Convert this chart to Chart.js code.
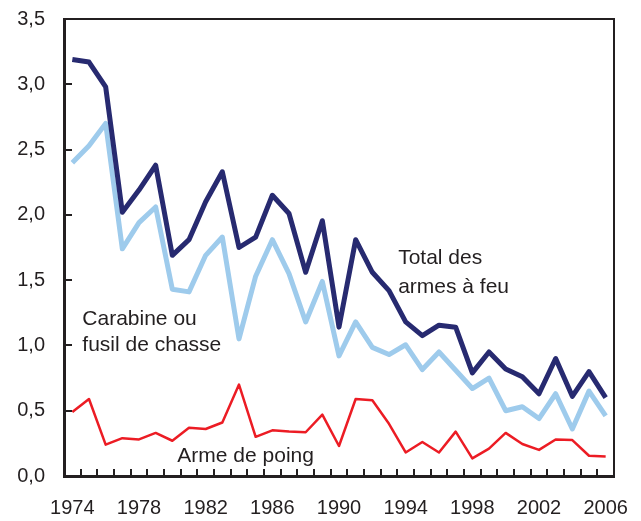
<!DOCTYPE html>
<html><head><meta charset="utf-8">
<script src="https://cdn.jsdelivr.net/npm/chart.js@4/dist/chart.umd.min.js"></script>
<style>html,body{margin:0;padding:0;background:#fff}#wrap{width:641px;height:521px}</style>
</head><body><div id="wrap"><canvas id="c" width="641" height="521"></canvas></div>
<script>
const years = ['1974','1975','1976','1977','1978','1979','1980','1981','1982','1983','1984','1985','1986','1987','1988','1989','1990','1991','1992','1993','1994','1995','1996','1997','1998','1999','2000','2001','2002','2003','2004','2005','2006'];
const totalArmes = [3.19,3.17,2.98,2.02,2.19,2.38,1.69,1.81,2.10,2.33,1.75,1.83,2.15,2.01,1.56,1.955,1.14,1.81,1.56,1.42,1.18,1.075,1.155,1.14,0.79,0.95,0.82,0.76,0.63,0.90,0.61,0.80,0.60];
const carabine = [2.40,2.53,2.70,1.74,1.94,2.06,1.43,1.41,1.69,1.83,1.05,1.53,1.81,1.55,1.18,1.49,0.92,1.18,0.985,0.93,1.005,0.815,0.95,0.81,0.67,0.75,0.50,0.53,0.44,0.63,0.36,0.65,0.46];
const armePoing = [0.49,0.59,0.24,0.29,0.28,0.33,0.27,0.37,0.36,0.41,0.70,0.30,0.35,0.34,0.335,0.47,0.23,0.59,0.58,0.40,0.18,0.26,0.18,0.34,0.135,0.21,0.33,0.245,0.20,0.28,0.275,0.155,0.15];
const labeledYears = ['1974','1978','1982','1986','1990','1994','1998','2002','2006'];
const yTickValues = [0,0.5,1,1.5,2,2.5,3,3.5];
const annotations = [
  {text:'Total des', xIdx:19.55, y:1.625},
  {text:'armes à feu', xIdx:19.55, y:1.405},
  {text:'Carabine ou', xIdx:0.6, y:1.16},
  {text:'fusil de chasse', xIdx:0.6, y:0.955},
  {text:'Arme de poing', xIdx:6.3, y:0.105}
];

const FONT = '"Liberation Sans", Arial, Helvetica, sans-serif';
const INK = '#231f20';

const framePlugin = {
  id: 'frame',
  afterDatasetsDraw(chart) {
    const ctx = chart.ctx, a = chart.chartArea;
    const xs = chart.scales.x, ys = chart.scales.y;
    ctx.save();
    ctx.strokeStyle = INK;
    ctx.lineWidth = 2;
    ctx.beginPath();
    ctx.moveTo(a.left, a.top); ctx.lineTo(a.right, a.top); ctx.lineTo(a.right, a.bottom);
    ctx.stroke();
    ctx.lineWidth = 2;
    ctx.beginPath();
    yTickValues.forEach(v => {
      const y = Math.round(ys.getPixelForValue(v));
      if (v > 0 && v < 3.5) { ctx.moveTo(a.left, y); ctx.lineTo(a.left + 8, y); }
    });
    for (let i = 1; i < years.length; i++) {
      const x = Math.round((xs.getPixelForValue(i - 1) + xs.getPixelForValue(i)) / 2);
      ctx.moveTo(x, a.bottom); ctx.lineTo(x, a.bottom - 7);
    }
    ctx.stroke();
    ctx.fillStyle = INK;
    ctx.font = '21px ' + FONT;
    ctx.textAlign = 'left';
    ctx.textBaseline = 'alphabetic';
    annotations.forEach(t => {
      ctx.fillText(t.text, xs.getPixelForValue(t.xIdx), ys.getPixelForValue(t.y));
    });
    ctx.restore();
  }
};

new Chart(document.getElementById('c'), {
  type: 'line',
  data: {
    labels: years,
    datasets: [
      {label:'Total des armes à feu', data: totalArmes, borderColor:'#272a70', borderWidth:5, pointRadius:0, tension:0, borderJoinStyle:'round'},
      {label:'Carabine ou fusil de chasse', data: carabine, borderColor:'#9ecbec', borderWidth:5, pointRadius:0, tension:0, borderJoinStyle:'round'},
      {label:'Arme de poing', data: armePoing, borderColor:'#ec1c24', borderWidth:2.5, pointRadius:0, tension:0, borderJoinStyle:'round'}
    ]
  },
  options: {
    responsive: false,
    animation: false,
    devicePixelRatio: 1,
    layout: { padding: { top: 19, right: 27, left: 0, bottom: 0 } },
    plugins: { legend: { display: false }, tooltip: { enabled: false } },
    scales: {
      x: {
        type: 'category',
        offset: true,
        grid: { display: false, drawTicks: false, offset: true },
        border: { display: true, width: 3, color: INK },
        ticks: {
          autoSkip: false, maxRotation: 0, minRotation: 0, padding: 20,
          color: INK, font: { family: FONT, size: 20 },
          callback: function(v, i) { const l = years[i]; return labeledYears.includes(l) ? l : ''; }
        },
        afterFit: s => { s.height = 45; s.paddingLeft = 0; s.paddingRight = 0; }
      },
      y: {
        min: 0, max: 3.5,
        grid: { display: false, drawTicks: false },
        border: { display: true, width: 3, color: INK },
        ticks: {
          stepSize: 0.5, padding: 19, color: INK, font: { family: FONT, size: 20 },
          callback: v => v.toFixed(1).replace('.', ',')
        },
        afterFit: s => { s.width = 64; s.paddingTop = 0; s.paddingBottom = 0; }
      }
    }
  },
  plugins: [framePlugin]
});
</script>
</body></html>
